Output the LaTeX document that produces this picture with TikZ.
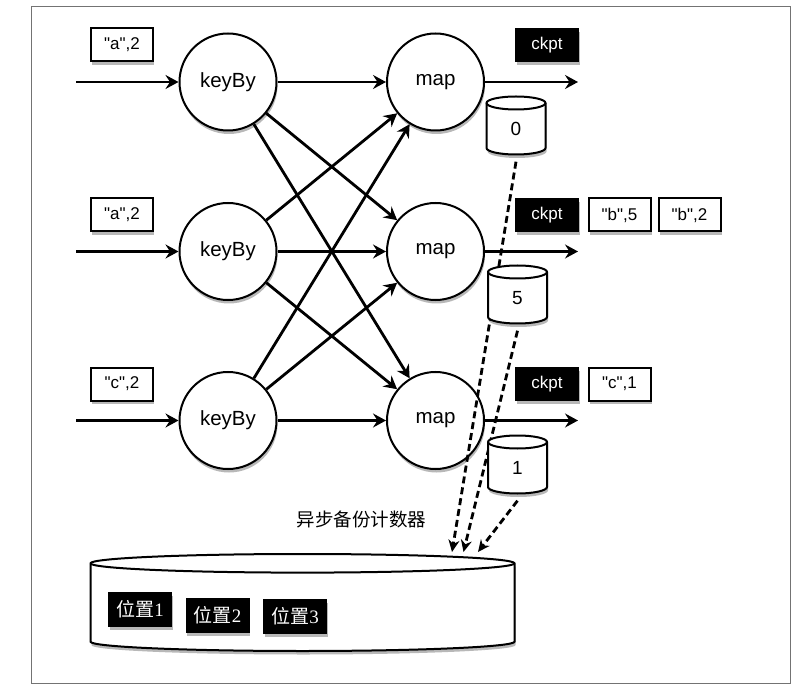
\documentclass[tikz,border=0pt]{standalone}
\usepackage{fontspec}
\setmainfont{Liberation Sans}
\newfontfamily\cjk{Noto Sans CJK SC}
\newfontfamily\serifnum{Liberation Serif}
\usetikzlibrary{arrows.meta,shadows}
\pgfdeclarelayer{bg}
\pgfdeclarelayer{mid}
\pgfsetlayers{bg,mid,main}
% cylinder outline: centre x, centre y, half width, half height, end radius
\newcommand\cylbody[5]{%
  \pgfmathsetmacro\cxl{#1-#3}\pgfmathsetmacro\cxr{#1+#3}%
  \pgfmathsetmacro\cyt{#2-#4+#5}\pgfmathsetmacro\cyb{#2+#4-#5}%
  \fill[black,opacity=0.28] ([shift={(1,3.5)}]\cxl,\cyt) -- ([shift={(1,3.5)}]\cxl,\cyb)
     arc[start angle=180,end angle=0,x radius=#3,y radius=#5] -- ([shift={(1,3.5)}]\cxr,\cyt)
     arc[start angle=0,end angle=-180,x radius=#3,y radius=#5] -- cycle;
  \draw[cylline,fill=white] (\cxl,\cyt) -- (\cxl,\cyb)
     arc[start angle=180,end angle=0,x radius=#3,y radius=#5] -- (\cxr,\cyt)
     arc[start angle=0,end angle=-180,x radius=#3,y radius=#5] -- cycle;
  \draw[cylline] (\cxl,\cyt) arc[start angle=180,end angle=0,x radius=#3,y radius=#5];
}
\begin{document}
\begin{tikzpicture}[x=1pt,y=-1pt,
  shad/.style={drop shadow={shadow xshift=1pt,shadow yshift=-3.5pt,opacity=0.28,fill=black}},
  cylline/.style={line width=2pt},
  opnode/.style={circle,draw,line width=2pt,fill=white,minimum size=97pt,inner sep=0pt,font=\fontsize{20.5}{24}\selectfont,shad},
  recbox/.style={draw,line width=2pt,fill=white,minimum width=62pt,minimum height=33pt,inner sep=0pt,font=\fontsize{17}{20}\selectfont,shad},
  blkbox/.style={draw,fill=black,text=white,line width=1pt,minimum width=63pt,minimum height=33pt,inner sep=0pt,font=\fontsize{17}{20}\selectfont,shad},
  posbox/.style={draw,fill=black,text=white,line width=1pt,minimum width=63pt,minimum height=34pt,inner sep=0pt,font=\fontsize{19}{22}\selectfont,shad},
  cyltext/.style={minimum width=59pt,minimum height=58pt,inner sep=0pt,font=\fontsize{19}{22}\selectfont},
  flow/.style={line width=2.8pt,-{Stealth[length=13pt,width=14pt,inset=4.5pt]}},
  dflow/.style={line width=2.8pt,dash pattern=on 7pt off 4pt,-{Stealth[length=12pt,width=11pt,inset=4pt]}},
  lbltext/.style={font=\cjk\fontsize{18.5}{22}\selectfont,inner sep=0pt}
]
\useasboundingbox (0,0) rectangle (800,692);
\begin{pgfonlayer}{bg}
\fill[white] (0,0) rectangle (800,692);
\draw[line width=1pt,black!55] (31,7) rectangle (790,683);

% operators
\node[opnode] (k1) at (228,82) {keyBy};
\node[opnode] (k2) at (228,251.5) {keyBy};
\node[opnode] (k3) at (228,420.5) {keyBy};
\node[opnode] (m1) at (435.5,82) {map};
\node[opnode] (m2) at (435.5,251.5) {map};
\node[opnode] (m3) at (435.5,420.5) {map};

% input / output streams
\coordinate (s1) at (76,82);
\coordinate (s2) at (76,251.5);
\coordinate (s3) at (76,420.5);
\coordinate (e1) at (578,82);
\coordinate (e2) at (578,251.5);
\coordinate (e3) at (578,420.5);
\foreach \i in {1,2,3}{
  \draw[flow] (s\i) -- (k\i);
  \draw[flow] (m\i) -- (e\i);
}
\foreach \i in {1,2,3}{
  \foreach \j in {1,2,3}{
    \draw[flow] (k\i) -- (m\j);
  }
}
\end{pgfonlayer}

% input records
\node[recbox] (i1) at (122,45) {\textquotedbl a\textquotedbl,2};
\node[recbox] (i2) at (122,215) {\textquotedbl a\textquotedbl,2};
\node[recbox] (i3) at (122,384) {\textquotedbl c\textquotedbl,2};

% checkpoint barriers and output records
\node[blkbox] (ck1) at (547,45) {ckpt};
\node[blkbox] (ck2) at (547,215) {ckpt};
\node[blkbox] (ck3) at (547,384) {ckpt};
\node[recbox] (b5) at (619.5,215) {\textquotedbl b\textquotedbl,5};
\node[recbox] (b2) at (689.5,215) {\textquotedbl b\textquotedbl,2};
\node[recbox] (c1) at (619.5,384) {\textquotedbl c\textquotedbl,1};

% big store
\cylbody{302.5}{602.5}{212}{48.5}{9.3}
\node[minimum width=424pt,minimum height=97pt,inner sep=0pt] (db) at (302.5,602.5) {};
\node[posbox] (p1) at (140,609) {{\cjk 位置}{\serifnum 1}};
\node[posbox] (p2) at (217.5,615) {{\cjk 位置}{\serifnum 2}};
\node[posbox] (p3) at (295,616) {{\cjk 位置}{\serifnum 3}};
\node[lbltext] (lab) at (361.5,519.5) {异步备份计数器};

% state backends
\cylbody{516}{125.5}{29.5}{29}{6.5}
\node[cyltext] (c0) at (516,129) {0};
\cylbody{517.5}{294.5}{29.5}{29}{6.5}
\node[cyltext] (c5) at (517.5,298) {5};
\cylbody{517.5}{464.5}{29.5}{29}{6.5}
\node[cyltext] (c1b) at (517.5,468) {1};
\coordinate (d1) at (452,552);
\coordinate (d2) at (463.5,552);
\coordinate (d3) at (478,552);
\begin{pgfonlayer}{mid}
\draw[dflow] ([yshift=-3.5]c0.south) -- (d1);
\draw[dflow] ([yshift=-3.5]c5.south) -- (d2);
\draw[dflow] ([yshift=-3.5]c1b.south) -- (d3);
\end{pgfonlayer}
\end{tikzpicture}
\end{document}
